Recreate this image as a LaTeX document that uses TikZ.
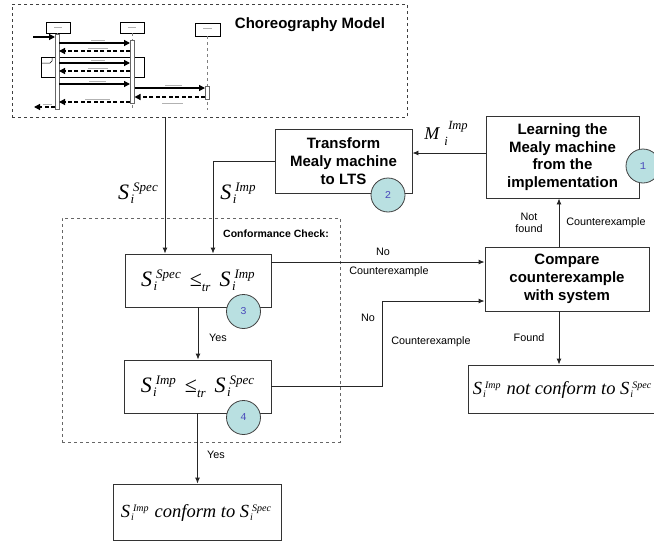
\documentclass[tikz,border=0pt]{standalone}
\usepackage{fontspec}
\setmainfont{Liberation Sans}
\newfontfamily\tms{Liberation Serif}
\newfontfamily\mono{Liberation Mono}
\usetikzlibrary{arrows.meta}
\definecolor{circfill}{HTML}{B9E0E1}
\definecolor{numblue}{HTML}{4A4ABB}
% big script formula: S_i^{#2}
\newcommand\SB[2]{S\kern1.5pt\rlap{\raisebox{-4pt}{\fontsize{13}{13}\selectfont #1}}\kern2.5pt\raisebox{8pt}{\fontsize{13}{13}\selectfont #2}}
\newcommand\SSm[2]{S\kern1pt\rlap{\raisebox{-3pt}{\fontsize{10}{10}\selectfont #1}}\kern2pt\raisebox{6.5pt}{\fontsize{10}{10}\selectfont #2}}
\newcommand\MB[2]{M\kern5pt\rlap{\raisebox{-6pt}{\fontsize{12.5}{12.5}\selectfont #1}}\kern4pt\raisebox{10pt}{\fontsize{12.5}{12.5}\selectfont #2}}
\begin{document}
\begin{tikzpicture}[x=1pt,y=-1pt,
 box/.style={draw=black!80,line width=0.9pt,inner sep=0pt,rectangle},
 bt/.style={font=\fontsize{15}{17.7}\selectfont\bfseries,align=center},
 lbl/.style={font=\fontsize{10.8}{12}\selectfont,inner sep=0pt,align=center},
 arr/.style={draw=black!85,line width=0.9pt,-{Latex[length=6pt,width=5pt]}},
 num/.style={circle,draw=black!75,line width=0.8pt,fill=circfill,minimum size=34pt,inner sep=0pt,font=\mono\fontsize{10.5}{10.5}\selectfont\color{numblue}},
 dbox/.style={draw=black!75,dashed,line width=0.8pt,inner sep=0pt,rectangle},
 mathbig/.style={font=\tms\itshape\fontsize{22}{24}\selectfont,inner sep=0pt},
 mathsm/.style={font=\tms\itshape\fontsize{18.5}{20}\selectfont,inner sep=0pt},
 sm/.style={line width=1.2pt,-{Triangle[length=6pt,width=6pt]}},
 dm/.style={sm,dash pattern=on 4pt off 2.5pt},
 tiny/.style={draw=gray!60,line width=0.8pt}
]
\useasboundingbox (0,0) rectangle (654,541);

% ---------- choreography model ----------
\node[dbox,minimum width=395pt,minimum height=113pt] (chor) at (209.5,60.5) {};
\node[bt,inner sep=0pt] (chorlbl) at (310,25) {Choreography Model};

% sequence diagram sketch
\draw[line width=0.7pt] (46,22) rectangle (70,33);
\draw[line width=0.7pt] (120,22) rectangle (144,33);
\draw[line width=0.7pt] (195,23) rectangle (220,36);
\draw[tiny] (54,27.5) -- (62,27.5);
\draw[tiny] (128,27.5) -- (136,27.5);
\draw[tiny] (203,28) -- (212,28);
\draw[dashed,gray,line width=0.5pt] (57,33) -- (57,110);
\draw[dashed,gray,line width=0.5pt] (132,33) -- (132,110);
\draw[dashed,gray,line width=0.5pt] (207,36) -- (207,110);
\draw[line width=0.7pt] (41,57) rectangle (144,77);
\draw[line width=0.5pt] (41,63) -- (50,63) -- (52,61) -- (52,57);
\draw[fill=white,draw=black!60,line width=0.9pt] (55,34) rectangle (59,109);
\draw[fill=white,draw=black!60,line width=0.9pt] (130,40) rectangle (134.5,103);
\draw[fill=white,draw=black!60,line width=0.9pt] (205,86) rectangle (209,99);
\draw[sm] (33,37) -- (55,37);
\draw[sm] (59,43) -- (130,43);
\draw[dm] (130,51) -- (59,51);
\draw[sm] (59,63) -- (130,63);
\draw[dm] (130,71) -- (59,71);
\draw[sm] (59,84) -- (130,84);
\draw[sm] (134.5,88) -- (205,88);
\draw[dm] (205,97) -- (134.5,97);
\draw[dm] (130,102) -- (59,102);
\draw[dm] (55,107) -- (34,107);
\draw[tiny] (91,40.5) -- (105,40.5);
\draw[tiny] (88,48) -- (108,48);
\draw[tiny] (91,60.5) -- (105,60.5);
\draw[tiny] (88,68.5) -- (108,68.5);
\draw[tiny] (89,81) -- (106,81);
\draw[tiny] (165,85.5) -- (182,85.5);
\draw[tiny] (162,103) -- (183,103);
\draw[tiny] (85,99.5) -- (110,99.5);
\draw[tiny] (43,104.5) -- (52,104.5);

% ---------- process boxes ----------
\node[box,bt,minimum width=137pt,minimum height=64pt] (trans) at (343.5,161) {Transform\\Mealy machine\\to LTS};
\node[box,bt,minimum width=153pt,minimum height=82pt] (learn) at (562.5,157) {Learning the\\Mealy machine\\from the\\implementation};
\node[box,bt,minimum width=164pt,minimum height=64pt] (cmp) at (567,279) {Compare\\counterexample\\with system};

\node[dbox,draw=black!60,minimum width=278pt,minimum height=224pt] (conf) at (201,330) {};
\node[font=\fontsize{10.5}{12}\selectfont\bfseries,inner sep=0pt] (conflbl) at (276,234) {Conformance Check:};

\node[box,minimum width=146pt,minimum height=53pt] (b3) at (198,280.5) {};
\node[mathbig] (b3t) at (198,281) {\SB{i}{Spec}\hspace{9pt}{\upshape ≤}\raisebox{-5pt}{\fontsize{13}{13}\selectfont tr}\hspace{9pt}\SB{i}{Imp}};
\node[box,minimum width=147pt,minimum height=53pt] (b4) at (197.5,386.5) {};
\node[mathbig] (b4t) at (197.5,387) {\SB{i}{Imp}\hspace{9pt}{\upshape ≤}\raisebox{-5pt}{\fontsize{13}{13}\selectfont tr}\hspace{9pt}\SB{i}{Spec}};
\node[box,minimum width=168pt,minimum height=56pt] (conform) at (197,512) {};
\node[mathsm] (conft) at (196,513) {\SSm{i}{Imp}\hspace{6pt}conform to \SSm{i}{Spec}};
\node[box,minimum width=188pt,minimum height=48pt] (notc) at (562,389) {};
\node[mathsm] (notct) at (562,390) {\SSm{i}{Imp}\hspace{6pt}not conform to \SSm{i}{Spec}};

% ---------- connectors ----------
\coordinate (xs) at (165,0);
\coordinate (xi) at (213,0);
\coordinate (ym) at (0,153);
\coordinate (yn) at (0,262);
\coordinate (c2) at (382,301);
\coordinate (xc) at (559,0);
\draw[arr] (chor.south -| xs) -- (b3.north -| xs);
\draw[arr] (trans.west) -| (b3.north -| xi);
\draw[arr] (learn.west |- ym) -- (trans.east |- ym);
\draw[arr] (b3.east |- yn) -- (cmp.west |- yn);
\draw[arr] (b4.east) -| (c2) -- (cmp.west |- c2);
\draw[arr] (cmp.north -| xc) -- (learn.south -| xc);
\draw[arr] (cmp.south -| xc) -- (notc.north -| xc);
\draw[arr] (b3.south) -- (b4.north -| b3.south);
\draw[arr] (b4.south) -- (conform.north -| b4.south);

% ---------- numbered circles ----------
\node[num] (n1) at (643,166) {1};
\node[num] (n2) at (388,195) {2};
\node[num] (n3) at (243.5,311.5) {3};
\node[num] (n4) at (243.5,417.5) {4};

% ---------- labels ----------
\node[mathbig] (lspec) at (138,193) {\SB{i}{Spec}};
\node[mathbig] (limp) at (238,193) {\SB{i}{Imp}};
\node[font=\tms\itshape\fontsize{18}{20}\selectfont,inner sep=0pt] (lm) at (446,133) {\MB{i}{Imp}};
\node[lbl] (no1) at (383,252) {No};
\node[lbl] (ce1) at (389,272) {Counterexample};
\node[lbl] (no2) at (368,318) {No};
\node[lbl] (ce2) at (431,342) {Counterexample};
\node[lbl] (found) at (529,338) {Found};
\node[lbl] (nf) at (529,223) {Not\\found};
\node[lbl] (ce3) at (606,223) {Counterexample};
\node[lbl] (yes1) at (218,338) {Yes};
\node[lbl] (yes2) at (216,455) {Yes};
\end{tikzpicture}
\end{document}
